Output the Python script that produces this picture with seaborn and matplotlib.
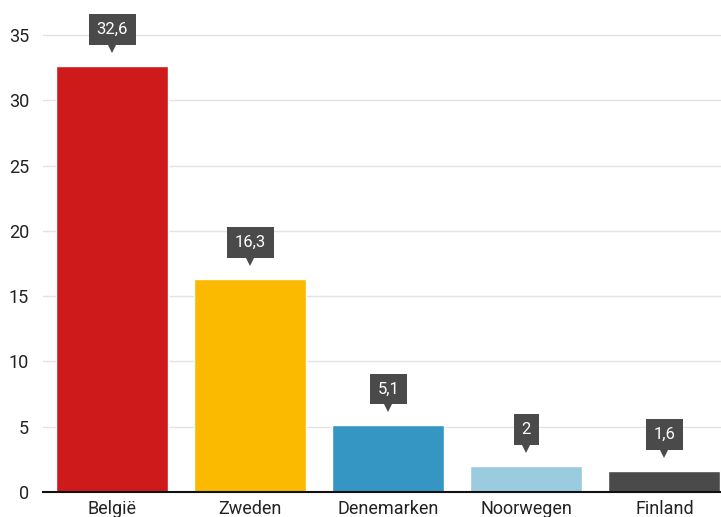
import matplotlib
matplotlib.use("Agg")
import matplotlib.pyplot as plt
import matplotlib.transforms as mtransforms
import seaborn as sns
import pandas as pd

countries = ["België", "Zweden", "Denemarken", "Noorwegen", "Finland"]
values = [32.6, 16.3, 5.1, 2.0, 1.6]
labels = ["32,6", "16,3", "5,1", "2", "1,6"]
colors = ["#cf1a1b", "#fbb900", "#3596c3", "#9bcbdf", "#4a4a4a"]
yticks = [0, 5, 10, 15, 20, 25, 30, 35]

sns.set_theme(style="white")
plt.rcParams["font.family"] = ["Roboto", "DejaVu Sans"]

df = pd.DataFrame({"land": countries, "waarde": values})

fig = plt.figure(figsize=(7.21, 5.17), dpi=100)
W, H = 721, 517
ax = fig.add_axes([43 / W, 25 / H, (721 - 43) / W, 492 / H])

sns.barplot(data=df, x="land", y="waarde", hue="land", palette=colors,
            order=countries, hue_order=countries, width=0.81, legend=False,
            saturation=1, ax=ax, zorder=3)

ax.set_xlim(-0.5, 4.41)
ax.set_ylim(0, 37.68)
ax.set_yticks(yticks)
ax.set_yticklabels([str(t) for t in yticks], fontsize=13, color="#222222")
ax.tick_params(axis="y", length=0, pad=10)
ax.tick_params(axis="x", length=0, pad=6, labelsize=13, labelcolor="#222222")
ax.set_xlabel("")
ax.set_ylabel("")
ax.grid(axis="y", color="#e3e3e3", linewidth=1, zorder=0)
for s in ["top", "right", "left"]:
    ax.spines[s].set_visible(False)
ax.spines["bottom"].set_color("#111111")
ax.spines["bottom"].set_linewidth(1.5)
ax.spines["bottom"].set_zorder(5)

box_col = "#4a4a4a"
tri_tr = mtransforms.offset_copy(ax.transData, fig=fig, y=12.3, units="points")
for i, (v, lab) in enumerate(zip(values, labels)):
    ax.plot([i], [v], marker="v", markersize=5.5, markeredgewidth=0,
            color=box_col, transform=tri_tr, clip_on=False, zorder=6)
    ax.annotate(lab, xy=(i, v), xytext=(0, 26.3), textcoords="offset points",
                ha="center", va="center", fontsize=12, color="white",
                bbox=dict(boxstyle="square,pad=0.47", fc=box_col, ec="none"),
                zorder=7, annotation_clip=False)

fig.savefig("out.png", dpi=100)
